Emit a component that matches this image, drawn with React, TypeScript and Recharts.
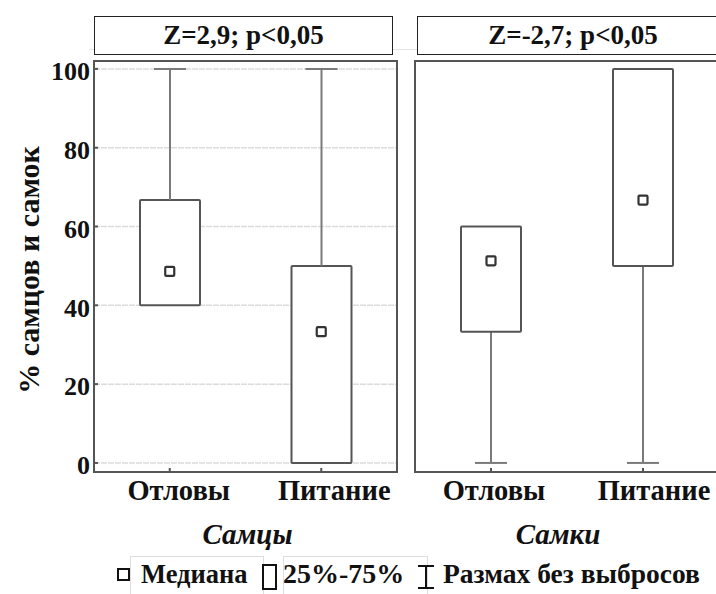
import React from "react";
import { Bar, CartesianGrid, ComposedChart, Line, ReferenceArea, XAxis, YAxis } from "recharts";

const groups = ["Отловы", "Питание"];

const maleMin = [40, 0];
const maleQ1 = [40, 0];
const maleMedian = [48.6, 33.3];
const maleQ3 = [66.7, 50];
const maleMax = [100, 100];

const femaleMin = [0, 0];
const femaleQ1 = [33.3, 50];
const femaleMedian = [51.3, 66.7];
const femaleQ3 = [60, 100];
const femaleMax = [60, 100];

const yTicks = [0, 20, 40, 60, 80, 100];
const yDomain = [-2.3, 102];
const panelTitles = ["Z=2,9; p<0,05", "Z=-2,7; p<0,05"];
const sexLabels = ["Самцы", "Самки"];
const yTitle = "% самцов и самок";
const legendLabels = ["Медиана", "25%-75%", "Размах без выбросов"];

const FONT = '"Liberation Serif", "Times New Roman", serif';
const FRAME = "#555";
const WHISKER = "#7a7a7a";

function buildRows(min: number[], q1: number[], med: number[], q3: number[], max: number[]) {
  return groups.map((name, i) => ({
    name,
    base: min[i],
    low: q1[i] - min[i],
    box: q3[i] - q1[i],
    high: max[i] - q3[i],
    median: med[i],
  }));
}

const maleRows = buildRows(maleMin, maleQ1, maleMedian, maleQ3, maleMax);
const femaleRows = buildRows(femaleMin, femaleQ1, femaleMedian, femaleQ3, femaleMax);

const LowWhisker = (p: any) => {
  if (!p.height) return null;
  const cx = p.x + p.width / 2;
  const yb = p.y + p.height;
  return (
    <g stroke={WHISKER} strokeWidth={2}>
      <line x1={cx} x2={cx} y1={p.y} y2={yb} />
      <line x1={cx - 16} x2={cx + 16} y1={yb} y2={yb} />
    </g>
  );
};

const HighWhisker = (p: any) => {
  if (!p.height) return null;
  const cx = p.x + p.width / 2;
  return (
    <g stroke={WHISKER} strokeWidth={2}>
      <line x1={cx} x2={cx} y1={p.y} y2={p.y + p.height} />
      <line x1={cx - 16} x2={cx + 16} y1={p.y} y2={p.y} />
    </g>
  );
};

const BoxShape = (p: any) => (
  <rect x={p.x} y={p.y} width={p.width} height={p.height} rx={1} fill="#fff" stroke={FRAME} strokeWidth={2} />
);

const MedianMark = (p: any) => {
  if (p.cx == null || p.cy == null) return null;
  return <rect key={p.index} x={p.cx - 4.5} y={p.cy - 4.5} width={9} height={9} rx={1} fill="#fff" stroke="#333" strokeWidth={2.2} />;
};

const tickFont = { fontFamily: FONT, fontWeight: 700, fill: "#111" };

function Panel({ rows, width, left, marginLeft, marginRight, showY, sexLabel, labelShift, tickShift }: any) {
  const tickLine = { stroke: FRAME, strokeWidth: 2 };
  const CatTick = (tp: any) => (
    <text
      x={tp.x + tickShift[tp.index]}
      y={tp.y}
      dy="0.71em"
      textAnchor="middle"
      fontFamily={FONT}
      fontWeight={700}
      fontSize={28.5}
      fill="#111"
    >
      {tp.payload.value}
    </text>
  );
  return (
    <div style={{ position: "absolute", left, top: 0 }}>
      <ComposedChart
        width={width}
        height={594}
        data={rows}
        margin={{ top: 61, right: marginRight, bottom: 40, left: marginLeft }}
      >
        <CartesianGrid vertical={false} stroke="#dcdcdc" strokeWidth={1.5} strokeDasharray="6 1" />
        <XAxis
          dataKey="name"
          height={82}
          tickLine={tickLine}
          tickSize={-4}
          tickMargin={12}
          axisLine={false}
          tick={CatTick}
          label={{
            content: (lp: any) => {
              const vb = lp.viewBox;
              return (
                <text
                  x={vb.x + vb.width / 2 + labelShift}
                  y={544}
                  textAnchor="middle"
                  fontFamily={FONT}
                  fontWeight={700}
                  fontStyle="italic"
                  fontSize={29}
                  fill="#111"
                >
                  {sexLabel}
                </text>
              );
            },
          }}
        />
        <XAxis xAxisId="top" dataKey="name" orientation="top" height={0} tick={false} tickSize={-4} tickLine={tickLine} axisLine={false} />
        <YAxis
          domain={yDomain}
          ticks={yTicks}
          allowDataOverflow
          width={showY ? 94 : 0}
          tick={showY ? { ...tickFont, fontSize: 26, dy: 2 } : false}
          tickLine={tickLine}
          tickSize={-4}
          tickMargin={8}
          axisLine={false}
          label={
            showY
              ? {
                  content: (lp: any) => {
                    const vb = lp.viewBox;
                    const cx = vb.x + 28;
                    const cy = 270;
                    return (
                      <text
                        x={cx}
                        y={cy}
                        transform={`rotate(-90 ${cx} ${cy})`}
                        textAnchor="middle"
                        dominantBaseline="central"
                        fontFamily={FONT}
                        fontWeight={700}
                        fontSize={30}
                        fill="#111"
                      >
                        {yTitle}
                      </text>
                    );
                  },
                }
              : undefined
          }
        />
        <YAxis yAxisId="r" orientation="right" domain={yDomain} ticks={yTicks} allowDataOverflow width={0} tick={false} tickSize={-4} tickLine={tickLine} axisLine={false} />
        <Bar dataKey="base" stackId="b" barSize={60} fill="none" isAnimationActive={false} />
        <Bar dataKey="low" stackId="b" barSize={60} shape={LowWhisker} isAnimationActive={false} />
        <Bar dataKey="box" stackId="b" barSize={60} shape={BoxShape} isAnimationActive={false} />
        <Bar dataKey="high" stackId="b" barSize={60} shape={HighWhisker} isAnimationActive={false} />
        <Line dataKey="median" stroke="none" dot={MedianMark} activeDot={false} isAnimationActive={false} />
        <ReferenceArea y1={yDomain[0]} y2={yDomain[1]} fill="none" stroke={FRAME} strokeWidth={2} ifOverflow="visible" />
      </ComposedChart>
    </div>
  );
}

const titleBox = (left: number, width: number, text: string) => (
  <div
    style={{
      position: "absolute",
      left,
      top: 16,
      width,
      height: 37,
      border: "1.5px solid #222",
      fontFamily: FONT,
      fontWeight: 700,
      fontSize: 27,
      lineHeight: "37px",
      textAlign: "center",
      color: "#111",
      background: "#fff",
    }}
  >
    {text}
  </div>
);

function Legend() {
  const txt = { fontFamily: FONT, fontWeight: 700, color: "#111", position: "absolute" as const, top: 559, lineHeight: "30px" };
  return (
    <>
      <div style={{ position: "absolute", left: 130, top: 556, width: 132, height: 40, borderTop: "1px solid #ddd", borderLeft: "1px solid #ddd", borderRight: "1px solid #ddd" }} />
      <div style={{ position: "absolute", left: 283, top: 556, width: 143, height: 40, borderTop: "1px solid #ddd", borderLeft: "1px solid #ddd", borderRight: "1px solid #ddd" }} />
      <svg style={{ position: "absolute", left: 0, top: 550 }} width={716} height={44}>
        <rect x={118} y={19} width={11} height={11} fill="#fff" stroke="#111" strokeWidth={2} />
        <rect x={263} y={15} width={13} height={24} fill="#fff" stroke="#111" strokeWidth={2} />
        <g stroke="#111" strokeWidth={2}>
          <line x1={426} x2={426} y1={16} y2={38} />
          <line x1={418} x2={434} y1={16} y2={16} />
          <line x1={418} x2={434} y1={38} y2={38} />
        </g>
      </svg>
      <span style={{ ...txt, left: 141, fontSize: 26.5 }}>{legendLabels[0]}</span>
      <span style={{ ...txt, left: 283, fontSize: 28 }}>{legendLabels[1]}</span>
      <span style={{ ...txt, left: 443, fontSize: 27.5 }}>{legendLabels[2]}</span>
    </>
  );
}

export default function App() {
  return (
    <div style={{ position: "absolute", left: 0, top: 0, width: 716, height: 594, overflow: "hidden", background: "#fff" }}>
      <div style={{ position: "absolute", left: 89, top: 49, width: 330, height: 0, borderTop: "1px solid #e4e4e4" }} />
      {titleBox(94, 297, panelTitles[0])}
      {titleBox(417, 310, panelTitles[1])}
      <Panel rows={maleRows} width={400} left={0} marginLeft={0} marginRight={3} showY sexLabel={sexLabels[0]} labelShift={2} tickShift={[9, 13]} />
      <Panel rows={femaleRows} width={310} left={414} marginLeft={1} marginRight={5} showY={false} sexLabel={sexLabels[1]} labelShift={-9} tickShift={[3, 11]} />
      <Legend />
    </div>
  );
}
